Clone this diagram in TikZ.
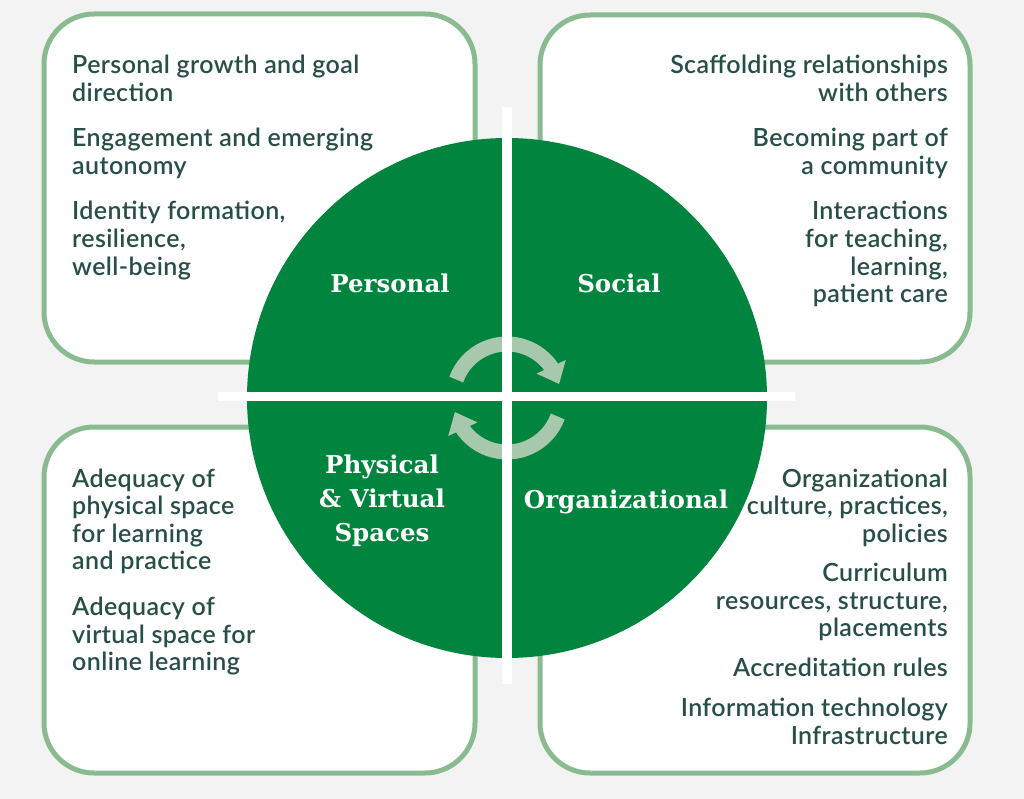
\documentclass[tikz,border=0pt]{standalone}
\usepackage{fontspec}
\usetikzlibrary{arrows.meta,bending}
\newfontfamily\bodyf{Lato Semibold}[LetterSpace=1.6]
\newfontfamily\slabf{DejaVu Serif}
\definecolor{bgc}{RGB}{243,243,243}
\definecolor{boxc}{RGB}{138,187,144}
\definecolor{circc}{RGB}{0,132,62}
\definecolor{arrc}{RGB}{168,200,174}
\definecolor{txtc}{RGB}{40,78,72}
\tikzset{
  box/.style={draw=boxc, line width=5pt, fill=white, rounded corners=50pt, inner sep=0pt},
  lt/.style={text=txtc, font=\bodyf\fontsize{25}{27.6}\selectfont, inner sep=0pt, anchor=base west},
  rt/.style={text=txtc, font=\bodyf\fontsize{25}{27.6}\selectfont, inner sep=0pt, anchor=base east},
  ctr/.style={text=white, font=\slabf\bfseries\fontsize{24.5}{27}\selectfont, inner sep=0pt, anchor=base},
  cyc/.style={draw=arrc, line width=15pt, -{Triangle[length=19pt,width=31pt,flex]}},
  cross/.style={draw=white}
}
\begin{document}
\begin{tikzpicture}[x=1pt,y=-1pt]
\fill[bgc] (0,0) rectangle (1024,799);
\useasboundingbox (0,0) rectangle (1024,799);
% boxes
\node[box, minimum width=431pt, minimum height=348pt] (tl) at (259.5,188) {};
\node[box, minimum width=430pt, minimum height=347pt] (tr) at (755,188.5) {};
\node[box, minimum width=431pt, minimum height=346pt] (bl) at (259.5,600) {};
\node[box, minimum width=430pt, minimum height=346pt] (br) at (755,600) {};
% circle
\node[circle, fill=circc, minimum size=520pt, inner sep=0pt] (c) at (507,398) {};
% cycle arrows
\draw[cyc] (c.center) ++(-160:54) arc (-160:-15:54);
\draw[cyc] (c.center) ++(20:54) arc (20:165:54);
% white cross
\coordinate (vt) at (507,107);
\coordinate (vb) at (507,684);
\coordinate (hl) at (218,396.5);
\coordinate (hr) at (795,396.5);
\draw[cross, line width=10pt] (vt) -- (vb);
\draw[cross, line width=9pt] (hl) -- (hr);
% circle labels
\node[ctr] (lp) at (390,293) {Personal};
\node[ctr] (ls) at (619,293) {Social};
\node[ctr] (lph1) at (382,473) {Physical};
\node[ctr] (lph2) at (382,507) {\& Virtual};
\node[ctr] (lph3) at (382,541) {Spaces};
\node[ctr] (lo) at (626,508) {Organizational};
% top-left text
\node[lt] (tl1) at (72,74) {Personal growth and goal};
\node[lt] (tl2) at (72,101.6) {direction};
\node[lt] (tl3) at (72,147) {Engagement and emerging};
\node[lt] (tl4) at (72,174.6) {autonomy};
\node[lt] (tl5) at (72,220) {Identity formation,};
\node[lt] (tl6) at (72,247.6) {resilience,};
\node[lt] (tl7) at (72,275.2) {well-being};
% top-right text
\node[rt] (tr1) at (948,74) {Scaffolding relationships};
\node[rt] (tr2) at (948,101.6) {with others};
\node[rt] (tr3) at (948,147) {Becoming part of};
\node[rt] (tr4) at (948,174.6) {a community};
\node[rt] (tr5) at (948,220) {Interactions};
\node[rt] (tr6) at (948,247.6) {for teaching,};
\node[rt] (tr7) at (948,275.2) {learning,};
\node[rt] (tr8) at (948,302.8) {patient care};
% bottom-left text
\node[lt] (bl1) at (72,487) {Adequacy of};
\node[lt] (bl2) at (72,514.6) {physical space};
\node[lt] (bl3) at (72,542.2) {for learning};
\node[lt] (bl4) at (72,569.8) {and practice};
\node[lt] (bl5) at (72,615.5) {Adequacy of};
\node[lt] (bl6) at (72,643.1) {virtual space for};
\node[lt] (bl7) at (72,670.7) {online learning};
% bottom-right text
\node[rt] (br1) at (948,487) {Organizational};
\node[rt] (br2) at (948,514.6) {culture, practices,};
\node[rt] (br3) at (948,542.2) {policies};
\node[rt] (br4) at (948,581.5) {Curriculum};
\node[rt] (br5) at (948,609.1) {resources, structure,};
\node[rt] (br6) at (948,636.7) {placements};
\node[rt] (br7) at (948,676.5) {Accreditation rules};
\node[rt] (br8) at (948,716.5) {Information technology};
\node[rt] (br9) at (948,744.1) {Infrastructure};
\end{tikzpicture}
\end{document}
